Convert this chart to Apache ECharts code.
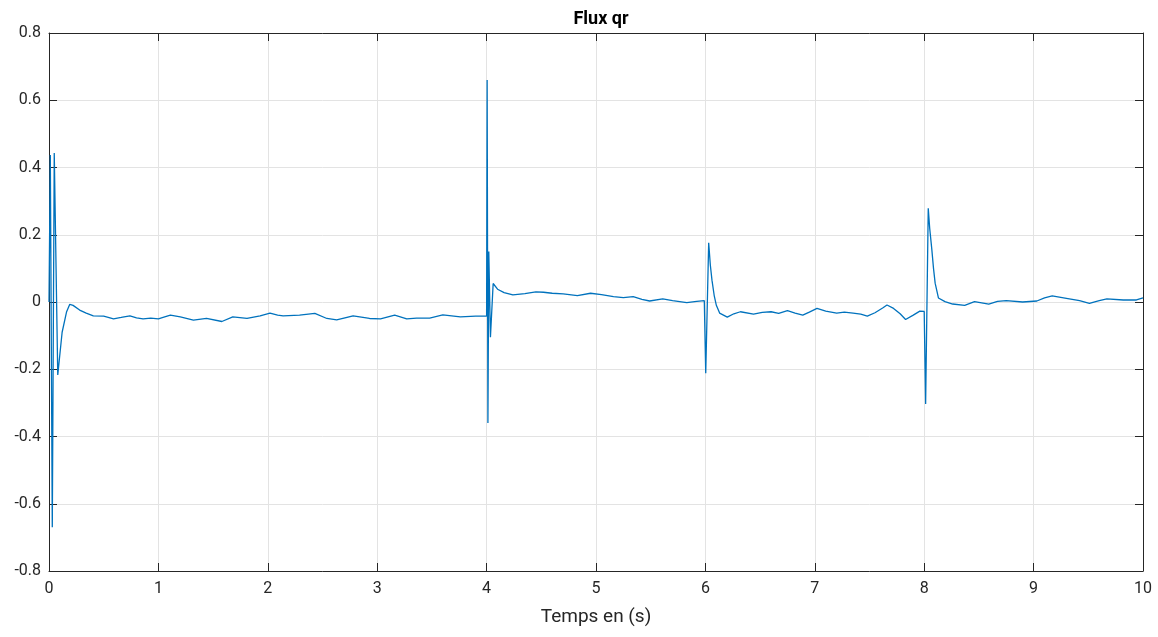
<!DOCTYPE html>
<html>
<head>
<meta charset="utf-8">
<script src="https://cdn.jsdelivr.net/npm/echarts@6/dist/echarts.min.js"></script>
<style>
html,body{margin:0;padding:0;background:#fff;}
#chart{width:1158px;height:637px;}
</style>
</head>
<body>
<div id="chart"></div>
<script>
const chartTitle = "Flux qr";
const xAxisName = "Temps en (s)";
const xTicks = [0,1,2,3,4,5,6,7,8,9,10];
const yTicks = [-0.8,-0.6,-0.4,-0.2,0,0.2,0.4,0.6,0.8];

const time = [
 0, 0.012, 0.03, 0.048, 0.08, 0.12, 0.16, 0.19, 0.22, 0.28, 0.34, 0.405, 0.5, 0.59, 0.66, 0.74, 0.8, 0.86, 0.93, 1.0,
 1.05, 1.11, 1.2, 1.32, 1.44, 1.58, 1.68, 1.81, 1.93, 2.02, 2.09, 2.14, 2.29, 2.43, 2.54, 2.63, 2.78, 2.93, 3.03, 3.16,
 3.27, 3.36, 3.48, 3.6, 3.76, 3.9, 4.0, 4.005, 4.012, 4.02, 4.035, 4.06, 4.1, 4.16, 4.24, 4.35, 4.45, 4.52, 4.6, 4.7,
 4.83, 4.95, 5.05, 5.16, 5.25, 5.34, 5.42, 5.49, 5.61, 5.7, 5.83, 5.92, 5.99, 6.003, 6.03, 6.045, 6.06, 6.08, 6.1, 6.13, 6.2,
 6.26, 6.32, 6.44, 6.52, 6.6, 6.67, 6.75, 6.82, 6.89, 6.95, 7.02, 7.1, 7.2, 7.27, 7.35, 7.42, 7.48, 7.55, 7.62, 7.66,
 7.72, 7.78, 7.83, 7.9, 7.96, 8.0, 8.013, 8.037, 8.05, 8.07, 8.085, 8.1, 8.13, 8.19, 8.26, 8.37, 8.46, 8.59, 8.67, 8.75, 8.9, 9.03,
 9.1, 9.17, 9.3, 9.42, 9.51, 9.6, 9.67, 9.82, 9.94, 10
];
const flux = [
 0, 0.437, -0.67, 0.443, -0.217, -0.09, -0.03, -0.007, -0.01, -0.024, -0.033, -0.041, -0.042, -0.05, -0.046, -0.041, -0.047, -0.05, -0.048, -0.05,
 -0.045, -0.039, -0.044, -0.054, -0.049, -0.058, -0.044, -0.049, -0.041, -0.033, -0.039, -0.041, -0.039, -0.034, -0.049, -0.053, -0.041, -0.049, -0.05, -0.039,
 -0.05, -0.048, -0.048, -0.038, -0.044, -0.042, -0.042, 0.66, -0.36, 0.15, -0.105, 0.055, 0.038, 0.028, 0.021, 0.025, 0.03, 0.029, 0.026, 0.024,
 0.019, 0.026, 0.022, 0.016, 0.013, 0.016, 0.008, 0.003, 0.009, 0.004, -0.002, 0.002, 0.004, -0.212, 0.176, 0.11, 0.065, 0.02, -0.01, -0.033, -0.045,
 -0.035, -0.029, -0.036, -0.031, -0.029, -0.034, -0.026, -0.033, -0.039, -0.03, -0.019, -0.027, -0.033, -0.03, -0.033, -0.036, -0.042, -0.032, -0.018, -0.009,
 -0.019, -0.035, -0.052, -0.039, -0.027, -0.028, -0.303, 0.279, 0.22, 0.155, 0.1, 0.056, 0.012, 0.001, -0.006, -0.01, 0.001, -0.006, 0.002, 0.004, 0, 0.003,
 0.012, 0.018, 0.011, 0.004, -0.004, 0.004, 0.009, 0.006, 0.006, 0.012
];

const seriesData = time.map((t, i) => [t, flux[i]]);
const fmt = v => (Math.abs(v) < 1e-9 ? '0' : String(Math.round(v * 10) / 10));

const chart = echarts.init(document.getElementById('chart'), null, {renderer: 'canvas'});
const axisColor = '#262626';
const fam = 'Roboto, "Liberation Sans", sans-serif';
const labelFont = {color: axisColor, fontSize: 16, fontFamily: fam};
chart.setOption({
  backgroundColor: '#ffffff',
  animation: false,
  title: {
    text: chartTitle, left: 596, top: 5, textAlign: 'center',
    textStyle: {fontSize: 18, fontWeight: 'bold', color: '#000', fontFamily: fam}
  },
  grid: {left: 49, right: 15, top: 33, bottom: 66, containLabel: false},
  xAxis: [{
    type: 'value', min: xTicks[0], max: xTicks[xTicks.length - 1], interval: 1,
    name: xAxisName, nameLocation: 'middle', nameGap: 37,
    nameTextStyle: {color: axisColor, fontSize: 19, fontFamily: fam},
    axisLine: {show: true, onZero: false, lineStyle: {color: axisColor, width: 1}},
    axisTick: {show: true, inside: true, length: 8, lineStyle: {color: axisColor}},
    axisLabel: Object.assign({margin: 10, formatter: v => String(v)}, labelFont),
    splitLine: {show: true, lineStyle: {color: '#e3e3e3', width: 1}}
  }, {
    type: 'value', position: 'top', min: xTicks[0], max: xTicks[xTicks.length - 1], interval: 1,
    axisLine: {show: true, onZero: false, lineStyle: {color: axisColor, width: 1}},
    axisTick: {show: true, inside: true, length: 8, lineStyle: {color: axisColor}},
    axisLabel: {show: false}, splitLine: {show: false}
  }],
  yAxis: [{
    type: 'value', min: yTicks[0], max: yTicks[yTicks.length - 1], interval: 0.2,
    axisLine: {show: true, onZero: false, lineStyle: {color: axisColor, width: 1}},
    axisTick: {show: true, inside: true, length: 8, lineStyle: {color: axisColor}},
    axisLabel: Object.assign({margin: 8, formatter: fmt}, labelFont),
    splitLine: {show: true, lineStyle: {color: '#e3e3e3', width: 1}}
  }, {
    type: 'value', position: 'right', min: yTicks[0], max: yTicks[yTicks.length - 1], interval: 0.2,
    axisLine: {show: true, onZero: false, lineStyle: {color: axisColor, width: 1}},
    axisTick: {show: true, inside: true, length: 8, lineStyle: {color: axisColor}},
    axisLabel: {show: false}, splitLine: {show: false}
  }],
  series: [{
    type: 'line', data: seriesData, xAxisIndex: 0, yAxisIndex: 0,
    showSymbol: false, symbol: 'none', smooth: false,
    lineStyle: {color: '#0072BD', width: 1.3},
    itemStyle: {color: '#0072BD'}
  }]
});
</script>
</body>
</html>
